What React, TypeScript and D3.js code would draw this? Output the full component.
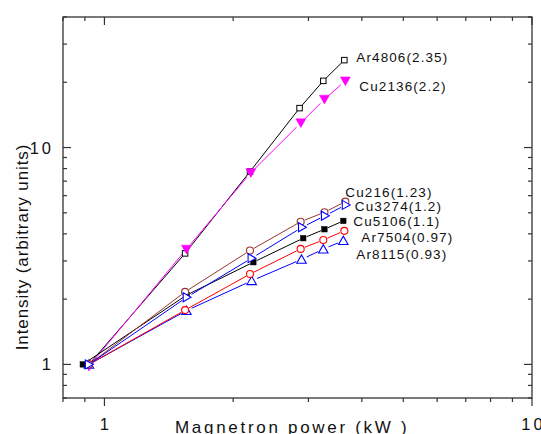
import React from "react";
import * as d3 from "d3";

const W = 541;
const H = 434;
const margin = { left: 63, right: 9, top: 17, bottom: 36 };

const xDomain: [number, number] = [0.8, 10];
const yDomain: [number, number] = [0.7, 40];
const xMajorTicks = [1, 10];
const xMinorTicks = [0.8, 0.9, 2, 3, 4, 5, 6, 7, 8, 9];
const yMajorTicks = [1, 10];
const yMinorTicks = [0.7, 0.8, 0.9, 2, 3, 4, 5, 6, 7, 8, 9, 20, 30, 40];
const xTickLabels = ["1", "10"];
const yTickLabels = ["1", "10"];

// series data (power in kW, normalized intensity)
const ar4806X = [0.92, 1.544, 2.19, 2.86, 3.25, 3.64];
const ar4806Y = [1.0, 3.25, 7.75, 15.2, 20.3, 25.3];
const cu2136X = [0.92, 1.555, 2.2, 2.88, 3.27, 3.66];
const cu2136Y = [0.98, 3.4, 7.66, 13.0, 16.7, 20.3];
const cu216X = [0.92, 1.544, 2.19, 2.877, 3.27, 3.66];
const cu216Y = [1.0, 2.16, 3.35, 4.55, 5.03, 5.63];
const cu3274X = [0.92, 1.558, 2.21, 2.9, 3.28, 3.67];
const cu3274Y = [1.0, 2.04, 3.09, 4.29, 4.85, 5.44];
const cu5106X = [0.89, 1.558, 2.23, 2.917, 3.27, 3.62];
const cu5106Y = [1.0, 2.09, 2.96, 3.82, 4.2, 4.59];
const ar7504X = [0.92, 1.544, 2.19, 2.877, 3.25, 3.64];
const ar7504Y = [1.0, 1.78, 2.61, 3.41, 3.75, 4.13];
const ar8115X = [0.92, 1.555, 2.21, 2.89, 3.25, 3.62];
const ar8115Y = [1.0, 1.77, 2.43, 3.05, 3.4, 3.72];

const seriesLabels = [
  "Ar4806(2.35)",
  "Cu2136(2.2)",
  "Cu216(1.23)",
  "Cu3274(1.2)",
  "Cu5106(1.1)",
  "Ar7504(0.97)",
  "Ar8115(0.93)",
];

const xTitle = "Magnetron power (kW )";
const yTitle = "Intensity (arbitrary units)";

type Marker = "sqOpen" | "sqFilled" | "circle" | "triDownFilled" | "triRight" | "triUp";

interface SeriesStyle {
  color: string;
  marker: Marker;
  size: number;
  labelDx: number;
  labelDy: number;
}

const series = [
  { label: seriesLabels[0], x: ar4806X, y: ar4806Y },
  { label: seriesLabels[1], x: cu2136X, y: cu2136Y },
  { label: seriesLabels[2], x: cu216X, y: cu216Y },
  { label: seriesLabels[3], x: cu3274X, y: cu3274Y },
  { label: seriesLabels[4], x: cu5106X, y: cu5106Y },
  { label: seriesLabels[5], x: ar7504X, y: ar7504Y },
  { label: seriesLabels[6], x: ar8115X, y: ar8115Y },
];

const styles: SeriesStyle[] = [
  { color: "#000000", marker: "sqOpen", size: 5.5, labelDx: 12, labelDy: 2 },
  { color: "#ff00ff", marker: "triDownFilled", size: 10, labelDx: 14, labelDy: 10 },
  { color: "#993333", marker: "circle", size: 7, labelDx: 0, labelDy: -5 },
  { color: "#0000ff", marker: "triRight", size: 9, labelDx: 9, labelDy: 6 },
  { color: "#000000", marker: "sqFilled", size: 5.5, labelDx: 10, labelDy: 5.5 },
  { color: "#ff0000", marker: "circle", size: 7, labelDx: 17, labelDy: 11 },
  { color: "#0000ff", marker: "triUp", size: 9.5, labelDx: 13, labelDy: 18 },
];

const drawOrder = [0, 1, 4, 6, 5, 2, 3];

function MarkerShape({ cx, cy, st }: { cx: number; cy: number; st: SeriesStyle }) {
  const s = st.size;
  const h = s / 2;
  switch (st.marker) {
    case "sqOpen":
      return <rect x={cx - h} y={cy - h} width={s} height={s} fill="#fff" stroke={st.color} strokeWidth={1} />;
    case "sqFilled":
      return <rect x={cx - h} y={cy - h} width={s} height={s} fill={st.color} stroke={st.color} strokeWidth={0.5} />;
    case "circle":
      return <circle cx={cx} cy={cy} r={h} fill="#fff" stroke={st.color} strokeWidth={1.1} />;
    case "triDownFilled": {
      const pts = [[cx - h, cy - h * 0.8], [cx + h, cy - h * 0.8], [cx, cy + h * 0.95]];
      return <polygon points={pts.map((p) => p.join(",")).join(" ")} fill={st.color} stroke={st.color} strokeWidth={0.5} />;
    }
    case "triRight": {
      const pts = [[cx - h * 0.8, cy - h], [cx - h * 0.8, cy + h], [cx + h * 0.95, cy]];
      return <polygon points={pts.map((p) => p.join(",")).join(" ")} fill="#fff" stroke={st.color} strokeWidth={1.1} />;
    }
    case "triUp": {
      const pts = [[cx - h, cy + h * 0.8], [cx + h, cy + h * 0.8], [cx, cy - h * 0.95]];
      return <polygon points={pts.map((p) => p.join(",")).join(" ")} fill="#fff" stroke={st.color} strokeWidth={1.1} />;
    }
  }
  return null;
}

export default function App() {
  const x = d3.scaleLog().domain(xDomain).range([margin.left, W - margin.right]);
  const y = d3.scaleLog().domain(yDomain).range([H - margin.bottom, margin.top]);
  const x0 = margin.left;
  const x1 = W - margin.right;
  const y0 = H - margin.bottom;
  const y1 = margin.top;
  const font = "'Liberation Sans', Arial, sans-serif";
  const axisColor = "#333";

  return (
    <svg width={W} height={H} style={{ position: "absolute", left: 0, top: 0, background: "#fff" }} fontFamily={font}>
      <rect x={0} y={0} width={W} height={H} fill="#fff" />
      {/* series lines with gaps at markers */}
      {drawOrder.map((si) => {
        const sr = series[si];
        const st = styles[si];
        const gap = st.size / 2 + 1;
        const pts = sr.x.map((v, i) => [x(v), y(sr.y[i])]);
        const segs = [];
        for (let i = 0; i < pts.length - 1; i++) {
          const [ax, ay] = pts[i];
          const [bx, by] = pts[i + 1];
          const len = Math.hypot(bx - ax, by - ay);
          if (len <= 2 * gap) continue;
          const ux = (bx - ax) / len;
          const uy = (by - ay) / len;
          const g0 = i === 0 ? 2 : gap;
          segs.push(
            <line key={i} x1={ax + ux * g0} y1={ay + uy * g0} x2={bx - ux * gap} y2={by - uy * gap} stroke={st.color} strokeWidth={1} />
          );
        }
        return <g key={"l" + si}>{segs}</g>;
      })}
      {drawOrder.map((si) => {
        const sr = series[si];
        const st = styles[si];
        return (
          <g key={"m" + si}>
            {sr.x.map((v, i) => (
              <MarkerShape key={i} cx={x(v)} cy={y(sr.y[i])} st={st} />
            ))}
          </g>
        );
      })}
      {/* series labels */}
      {series.map((sr, si) => {
        const st = styles[si];
        const n = sr.x.length - 1;
        return (
          <text
            key={"t" + si}
            x={x(sr.x[n]) + st.labelDx}
            y={y(sr.y[n]) + st.labelDy}
            fontSize={13.5}
            letterSpacing={1.1}
            fill="#111"
          >
            {sr.label}
          </text>
        );
      })}
      {/* frame */}
      <rect x={x0} y={y1} width={x1 - x0} height={y0 - y1} fill="none" stroke={axisColor} strokeWidth={1.3} />
      {/* x ticks: bottom outward, top inward */}
      {xMajorTicks.map((t) => (
        <g key={"xM" + t}>
          <line x1={x(t)} x2={x(t)} y1={y0} y2={y0 + 8} stroke={axisColor} strokeWidth={1.2} />
          <line x1={x(t)} x2={x(t)} y1={y1} y2={y1 + 8} stroke={axisColor} strokeWidth={1.2} />
        </g>
      ))}
      {xMinorTicks.map((t) => (
        <g key={"xm" + t}>
          <line x1={x(t)} x2={x(t)} y1={y0} y2={y0 + 4} stroke={axisColor} strokeWidth={1.2} />
          <line x1={x(t)} x2={x(t)} y1={y1} y2={y1 + 4} stroke={axisColor} strokeWidth={1.2} />
        </g>
      ))}
      {/* y ticks: inward on both sides */}
      {yMajorTicks.map((t) => (
        <g key={"yM" + t}>
          <line x1={x0} x2={x0 + 8} y1={y(t)} y2={y(t)} stroke={axisColor} strokeWidth={1.2} />
          <line x1={x1} x2={x1 - 8} y1={y(t)} y2={y(t)} stroke={axisColor} strokeWidth={1.2} />
        </g>
      ))}
      {yMinorTicks.map((t) => (
        <g key={"ym" + t}>
          <line x1={x0} x2={x0 + 4} y1={y(t)} y2={y(t)} stroke={axisColor} strokeWidth={1.2} />
          <line x1={x1} x2={x1 - 4} y1={y(t)} y2={y(t)} stroke={axisColor} strokeWidth={1.2} />
        </g>
      ))}
      {/* tick labels */}
      {xMajorTicks.map((t, i) => (
        <text key={"xl" + t} x={x(t) + 1.5} y={y0 + 32} fontSize={16.5} letterSpacing={3} textAnchor="middle" fill="#111">
          {xTickLabels[i]}
        </text>
      ))}
      {yMajorTicks.map((t, i) => (
        <text key={"yl" + t} x={x0 - 9} y={y(t) + 6} fontSize={16.5} letterSpacing={3} textAnchor="end" fill="#111">
          {yTickLabels[i]}
        </text>
      ))}
      {/* axis titles */}
      <text x={175} y={y0 + 35} fontSize={17} letterSpacing={2.7} fill="#111">
        {xTitle}
      </text>
      <text
        transform={`translate(${28},${247}) rotate(-90)`}
        fontSize={17}
        letterSpacing={0.9}
        textAnchor="middle"
        fill="#111"
      >
        {yTitle}
      </text>
    </svg>
  );
}
